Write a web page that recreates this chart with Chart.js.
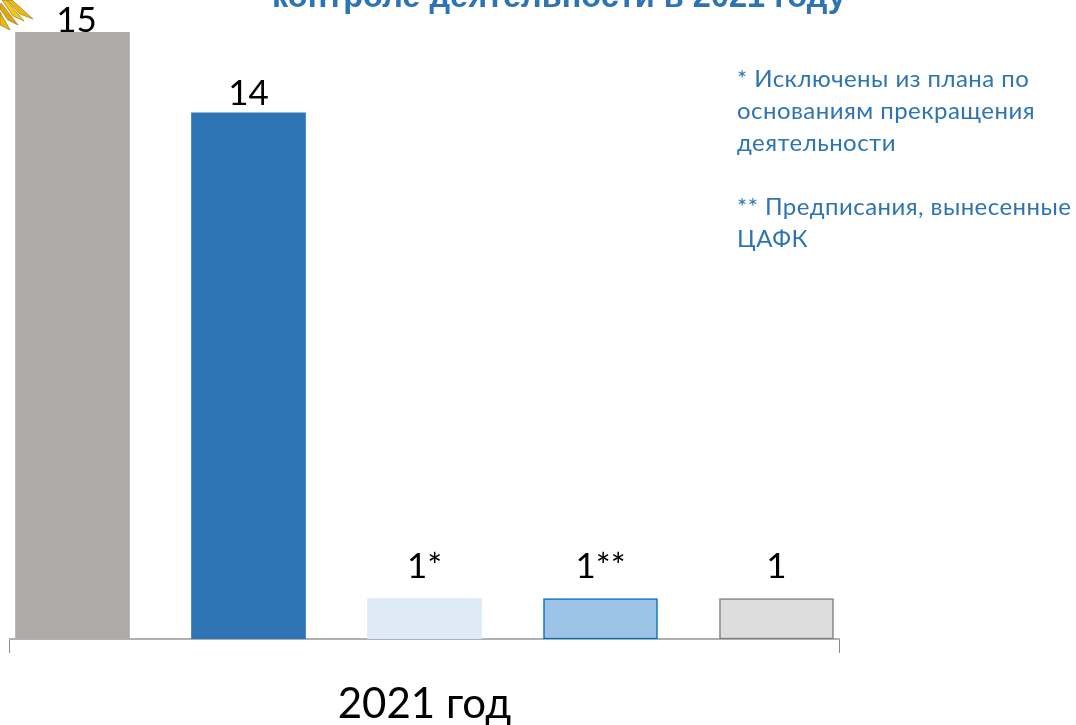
<!DOCTYPE html>
<html lang="ru">
<head>
<meta charset="utf-8">
<script src="https://cdn.jsdelivr.net/npm/chart.js@4/dist/chart.umd.min.js"></script>
<style>
  html, body { margin: 0; padding: 0; background: #fff; overflow: hidden; }
  #wrap { position: relative; width: 1076px; height: 725px; overflow: hidden; }
  canvas { position: absolute; left: 0; top: 0; }
  .title { position: absolute; left: 272px; top: -22px; font: bold 32.5px "Liberation Sans", sans-serif; color: #2e74b5; white-space: nowrap; }
  .notes { position: absolute; left: 737px; top: 62px; font: 24px/32px Lato, "Open Sans", sans-serif; letter-spacing: 0.45px; color: #2e74b5; white-space: nowrap; }
  .eagle { position: absolute; left: 0; top: 0; }
</style>
</head>
<body>
<div id="wrap">
  <canvas id="myChart" width="1076" height="725"></canvas>
  <div class="title">контроле деятельности в 2021 году</div>
  <div class="notes">* Исключены из плана по<br>основаниям прекращения<br>деятельности<br><br>** Предписания, вынесенные<br>ЦАФК</div>
  <svg class="eagle" width="36" height="32" stroke="#8f6d0c" stroke-width="0.6">
    <path d="M12 0 L33 19 L20 14 L7 0 Z" fill="#e8b90f"/>
    <path d="M6 0 L24 21 L13 16 L2 0 Z" fill="#f2c81a"/>
    <path d="M1 3 L18 25 L8 20 L0 9 Z" fill="#dba90c"/>
    <path d="M0 12 L10 30 L0 25 Z" fill="#e8b90f"/>
  </svg>
</div>
<script>
// bar heights as drawn in the picture (the "14" bar is drawn 13 units tall)
const barHeights = [15, 13, 1, 1, 1];
const barLabels = ['15', '14', '1*', '1**', '1'];
const barColors = ['#aeaaaa', '#2e74b5', '#deeaf6', '#9dc3e6', '#dddddd'];
const barBorders = ['#aeaaaa', '#2e74b5', '#deeaf6', '#0070c0', '#7f7f7f'];
const barBorderWidths = [0, 0, 0, 1.5, 1.5];
const labelGaps = [0, 8, 21, 21, 21];
const labelShifts = [4, 0, 0, 0, 0];
const axisTitle = '2021 год';

const valueLabels = {
  id: 'valueLabels',
  afterDatasetsDraw(chart) {
    const { ctx } = chart;
    const bars = chart.getDatasetMeta(0).data;
    ctx.save();
    ctx.font = '35px Lato, "Open Sans", sans-serif';
    ctx.fillStyle = '#000';
    ctx.textAlign = 'center';
    ctx.textBaseline = 'alphabetic';
    bars.forEach((bar, i) => {
      ctx.fillText(barLabels[i], bar.x + labelShifts[i], bar.y - labelGaps[i]);
    });
    ctx.restore();
  }
};

new Chart(document.getElementById('myChart').getContext('2d'), {
  type: 'bar',
  data: {
    datasets: [{
      data: barHeights.map((v, i) => ({ x: i, y: v })),
      backgroundColor: barColors,
      borderColor: barBorders,
      borderWidth: barBorderWidths,
      borderSkipped: false,
      barThickness: 114
    }]
  },
  options: {
    responsive: false,
    animation: false,
    layout: { padding: { left: 9.5, right: 236.5, top: 32, bottom: 0 } },
    plugins: { legend: { display: false }, tooltip: { enabled: false } },
    scales: {
      x: {
        type: 'linear',
        offset: false,
        min: -0.358,
        max: 4.358,
        afterBuildTicks(axis) {
          axis.ticks = [{ value: axis.min }, { value: axis.max }];
        },
        ticks: { display: false },
        grid: { offset: false, drawOnChartArea: false, drawTicks: true, tickLength: 14, color: '#8a8a8a', lineWidth: 1 },
        border: { color: '#b0b0b0', width: 2 },
        title: {
          display: true,
          text: axisTitle,
          color: '#000',
          font: { size: 42, lineHeight: 1, family: 'Lato, "Open Sans", sans-serif' },
          padding: { top: 30, bottom: 0 }
        }
      },
      y: { display: false, min: 0, max: 15 }
    }
  },
  plugins: [valueLabels]
});
</script>
</body>
</html>
